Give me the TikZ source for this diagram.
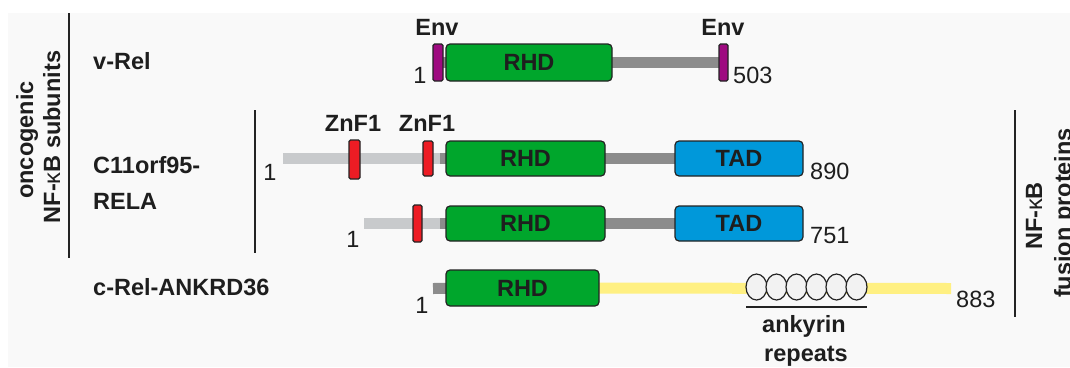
\documentclass[tikz,border=0pt]{standalone}
\usepackage{fontspec}
\setmainfont{Liberation Sans}
\usetikzlibrary{shapes.geometric}
\pgfdeclarelayer{bg}
\pgfdeclarelayer{mid}
\pgfsetlayers{bg,mid,main}
\definecolor{pagebg}{RGB}{249,249,249}
\definecolor{txt}{RGB}{30,30,30}
\definecolor{edge}{RGB}{35,35,35}
\definecolor{rhdgreen}{RGB}{0,166,44}
\definecolor{tadblue}{RGB}{0,152,218}
\definecolor{znred}{RGB}{237,28,36}
\definecolor{envmag}{RGB}{158,10,128}
\definecolor{darkbar}{RGB}{140,140,140}
\definecolor{lightbar}{RGB}{200,202,204}
\definecolor{yelbar}{RGB}{255,240,130}
\definecolor{ankfill}{RGB}{242,242,242}
\newcommand{\kap}{{\mdseries κ}}
\begin{document}
\begin{tikzpicture}[x=1pt,y=-1pt,
  bfont/.style={font=\fontsize{23.5}{27}\bfseries\selectfont},
  lab/.style={bfont, text=txt, inner sep=0pt, anchor=base west},
  toplab/.style={bfont, text=txt, inner sep=0pt, anchor=base},
  num/.style={font=\fontsize{23.5}{27}\selectfont, text=txt, inner sep=0pt},
  rotlab/.style={bfont, text=txt, inner sep=0pt, anchor=base, rotate=90},
  dom/.style={draw=edge, line width=1.2pt, rounded corners=4pt, inner sep=0pt, bfont, text=txt},
  rhdbox/.style={dom, fill=rhdgreen, minimum height=35pt},
  tadbox/.style={dom, fill=tadblue, minimum width=128pt, minimum height=35pt},
  znbox/.style={dom, rounded corners=1.5pt, fill=znred},
  envbox/.style={dom, rounded corners=1.5pt, fill=envmag, minimum height=37pt},
  bar/.style={line width=11pt},
  ank/.style={ellipse, draw=edge, line width=1.2pt, fill=ankfill, minimum width=21pt, minimum height=26pt, inner sep=0pt},
  sep/.style={draw=edge, line width=1.3pt}]
\useasboundingbox (0,0) rectangle (1070,367);
\begin{pgfonlayer}{bg}
  \fill[white] (0,0) rectangle (1070,367);
  \fill[pagebg] (8,13) rectangle (1070,367);
\end{pgfonlayer}

% separators
\coordinate (l1t) at (69,13);  \coordinate (l1b) at (69,258);
\coordinate (l2t) at (255,110); \coordinate (l2b) at (255,253);
\coordinate (l3t) at (1015,110); \coordinate (l3b) at (1015,317);
\draw[sep] (l1t) -- (l1b);
\draw[sep] (l2t) -- (l2b);
\draw[sep] (l3t) -- (l3b);

% group labels
\node[rotlab] (og1) at (33,140) {oncogenic};
\node[rotlab] (og2) at (60,137) {NF-\kap B subunits};
\node[rotlab] (fp1) at (1042,216) {NF-\kap B};
\node[rotlab] (fp2) at (1071,213) {fusion proteins};

% protein names
\node[lab] (nvrel) at (93,69) {v-Rel};
\node[lab] (nc11) at (93,173) {C11orf95-};
\node[lab] (nrela) at (93,209) {RELA};
\node[lab] (ncrel) at (93,295) {c-Rel-ANKRD36};

% ---- row 1: v-Rel
\node[envbox, minimum width=10pt] (env1) at (438,62.5) {};
\node[rhdbox, minimum width=166pt, minimum height=37pt] (rhd1) at (529,62.5) {RHD};
\node[envbox, minimum width=9pt] (env2) at (723.5,62.5) {};
\begin{pgfonlayer}{mid}
  \draw[bar, darkbar] (env1.center) -- (env2.center);
\end{pgfonlayer}
\node[toplab] (envl1) at (437,35) {Env};
\node[toplab] (envl2) at (723,35) {Env};
\node[num, anchor=base] (n1a) at (420,83) {1};
\node[num, anchor=base west] (n1b) at (733,83) {503};

% ---- row 2: C11orf95-RELA (890)
\node[znbox, minimum width=11pt, minimum height=39pt] (zn1) at (354.5,159.5) {};
\node[znbox, minimum width=10pt, minimum height=35pt] (zn2) at (428,158.5) {};
\node[rhdbox, minimum width=159pt] (rhd2) at (525.5,158.5) {RHD};
\node[tadbox] (tad2) at (739,158.5) {TAD};
\coordinate (s2) at (283,158.5);
\coordinate (j2) at (440,158.5);
\begin{pgfonlayer}{mid}
  \draw[bar, lightbar] (s2) -- (j2);
  \draw[bar, darkbar] (j2) -- (tad2.center);
\end{pgfonlayer}
\node[toplab] (znl1) at (353,131.5) {ZnF1};
\node[toplab] (znl2) at (427,131.5) {ZnF1};
\node[num, anchor=base] (n2a) at (270,180) {1};
\node[num, anchor=base west] (n2b) at (810,179) {890};

% ---- row 3: C11orf95-RELA (751)
\node[znbox, minimum width=9pt, minimum height=37pt] (zn3) at (417.5,223.5) {};
\node[rhdbox, minimum width=159pt] (rhd3) at (525.5,223.5) {RHD};
\node[tadbox] (tad3) at (739,223.5) {TAD};
\coordinate (s3) at (364,223.5);
\coordinate (j3) at (440,223.5);
\begin{pgfonlayer}{mid}
  \draw[bar, lightbar] (s3) -- (j3);
  \draw[bar, darkbar] (j3) -- (tad3.center);
\end{pgfonlayer}
\node[num, anchor=base] (n3a) at (353,247) {1};
\node[num, anchor=base west] (n3b) at (810,243) {751};

% ---- row 4: c-Rel-ANKRD36
\node[rhdbox, minimum width=153pt, minimum height=36pt] (rhd4) at (522.5,288) {RHD};
\coordinate (s4) at (433,288.5);
\coordinate (e4) at (951,288.5);
\begin{pgfonlayer}{mid}
  \draw[bar, darkbar] (s4) -- (rhd4.center);
  \draw[bar, yelbar] (rhd4.center) -- (e4);
\end{pgfonlayer}
\foreach \i in {1,...,6} {
  \node[ank] (ank\i) at ({756.5+20*(\i-1)},287) {};
}
\coordinate (ul1) at (746,307);
\coordinate (ul2) at (867,307);
\draw[edge, line width=1.5pt] (ul1) -- (ul2);
\node[toplab] (ankl1) at (804,332) {ankyrin};
\node[toplab] (ankl2) at (806,361) {repeats};
\node[num, anchor=base] (n4a) at (422,313) {1};
\node[num, anchor=base west] (n4b) at (956,307) {883};
\end{tikzpicture}
\end{document}
